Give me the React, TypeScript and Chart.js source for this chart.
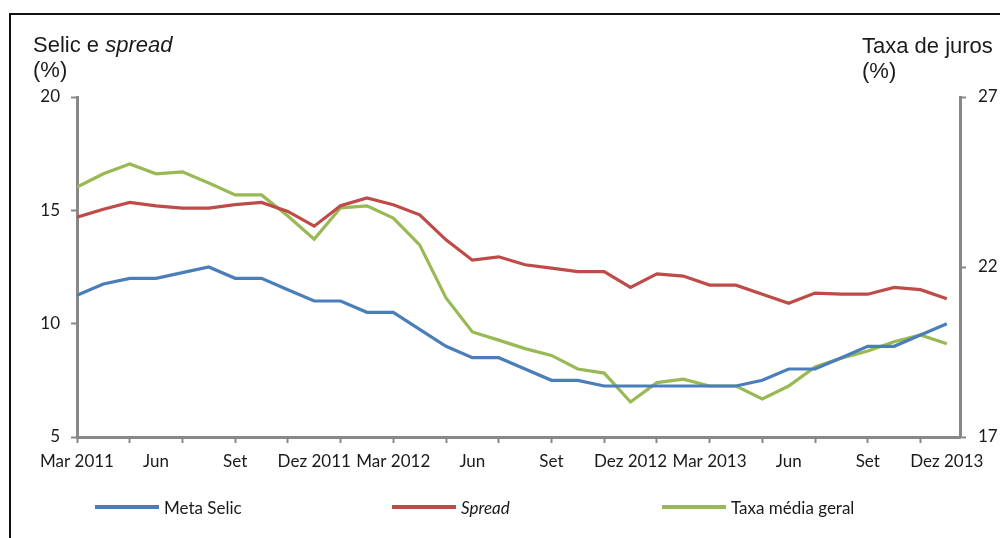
import React, { useEffect, useRef } from "react";
import { Chart, registerables } from "chart.js";

Chart.register(...registerables);

// Monthly series, Mar 2011 .. Dez 2013 (34 months)
const xTickLabels = [
  "Mar 2011", "Jun", "Set", "Dez 2011", "Mar 2012", "Jun",
  "Set", "Dez 2012", "Mar 2013", "Jun", "Set", "Dez 2013",
];
const labelEvery = 3; // one label per quarter
const tickMarkEvery = 2; // tick marks every two months

const metaSelic = [
  11.25, 11.75, 12, 12, 12.25, 12.5, 12, 12, 11.5, 11, 11, 10.5,
  10.5, 9.75, 9, 8.5, 8.5, 8, 7.5, 7.5, 7.25, 7.25, 7.25, 7.25,
  7.25, 7.25, 7.5, 8, 8, 8.5, 9, 9, 9.5, 10,
];
const spread = [
  14.7, 15.05, 15.35, 15.2, 15.1, 15.1, 15.25, 15.35, 14.95, 14.3, 15.2, 15.55,
  15.25, 14.8, 13.7, 12.8, 12.95, 12.6, 12.45, 12.3, 12.3, 11.6, 12.2, 12.1,
  11.7, 11.7, 11.3, 10.9, 11.35, 11.3, 11.3, 11.6, 11.5, 11.1,
];
const taxaMediaGeral = [
  24.35, 24.74, 25.03, 24.74, 24.8, 24.47, 24.12, 24.12, 23.5, 22.82, 23.74, 23.8,
  23.44, 22.65, 21.09, 20.09, 19.85, 19.6, 19.4, 19.0, 18.88, 18.03, 18.6, 18.7,
  18.5, 18.5, 18.12, 18.5, 19.06, 19.32, 19.53, 19.8, 20.0, 19.74,
];

const leftAxis = { min: 5, max: 20, step: 5 };
const rightAxis = { min: 17, max: 27, step: 5 };

const BLUE = "#4A7EBB";
const RED = "#BE4B48";
const GREEN = "#98B954";
const AXIS = "#888888";
const TEXT = "#1a1a1a";
const TICK_FONT = { family: "Lato", size: 17 };

const toPoints = (arr: number[]) => arr.map((v, i) => ({ x: i, y: v }));

export default function App() {
  const canvasRef = useRef<HTMLCanvasElement | null>(null);

  useEffect(() => {
    const canvas = canvasRef.current;
    if (!canvas) return;
    const chart = new Chart(canvas, {
      type: "line",
      data: {
        datasets: [
          {
            label: "Meta Selic",
            data: toPoints(metaSelic),
            borderColor: BLUE,
            borderWidth: 3.2,
            pointRadius: 0,
            yAxisID: "y",
          },
          {
            label: "Spread",
            data: toPoints(spread),
            borderColor: RED,
            borderWidth: 3.2,
            pointRadius: 0,
            yAxisID: "y",
          },
          {
            label: "Taxa média geral",
            data: toPoints(taxaMediaGeral),
            borderColor: GREEN,
            borderWidth: 3.2,
            pointRadius: 0,
            yAxisID: "y1",
          },
        ],
      },
      options: {
        responsive: false,
        animation: false,
        devicePixelRatio: 1,
        layout: { padding: { top: 97, left: 0, right: 0, bottom: 0 } },
        plugins: {
          legend: { display: false },
          tooltip: { enabled: false },
          title: { display: false },
        },
        scales: {
          x: {
            type: "linear",
            min: 0,
            max: metaSelic.length - 0.5,
            // one tick per month; labels and tick marks are thinned below
            afterBuildTicks: (s: any) => {
              s.ticks = metaSelic.map((_, i) => ({ value: i }));
            },
            afterFit: (s: any) => {
              s.height = 101;
            },
            border: { display: true, color: AXIS, width: 3 },
            grid: {
              drawOnChartArea: false,
              drawTicks: true,
              tickLength: 6,
              tickWidth: 2,
              tickColor: (ctx: any) => {
                const v = ctx.tick ? ctx.tick.value : NaN;
                return Number.isInteger(v) && v % tickMarkEvery === 0 ? AXIS : "rgba(0,0,0,0)";
              },
            },
            ticks: {
              autoSkip: false,
              maxRotation: 0,
              minRotation: 0,
              padding: 8,
              color: TEXT,
              font: TICK_FONT,
              callback: (value: any) => {
                const v = Number(value);
                if (!Number.isInteger(v) || v % labelEvery !== 0) return "";
                return xTickLabels[v / labelEvery] ?? "";
              },
            },
          },
          y: {
            type: "linear",
            position: "left",
            min: leftAxis.min,
            max: leftAxis.max,
            afterFit: (s: any) => {
              s.width = 77;
            },
            border: { display: true, color: AXIS, width: 3 },
            grid: {
              drawOnChartArea: false,
              tickLength: 6,
              tickWidth: 2,
              tickColor: AXIS,
            },
            ticks: {
              stepSize: leftAxis.step,
              padding: 11,
              color: TEXT,
              font: TICK_FONT,
            },
          },
          y1: {
            type: "linear",
            position: "right",
            min: rightAxis.min,
            max: rightAxis.max,
            afterFit: (s: any) => {
              s.width = 40;
            },
            border: { display: true, color: AXIS, width: 3 },
            grid: {
              drawOnChartArea: false,
              tickLength: 6,
              tickWidth: 2,
              tickColor: AXIS,
            },
            ticks: {
              stepSize: rightAxis.step,
              padding: 12,
              color: TEXT,
              font: TICK_FONT,
            },
          },
        },
      },
    } as any);
    return () => chart.destroy();
  }, []);

  const titleStyle: React.CSSProperties = {
    position: "absolute",
    fontFamily: "'Liberation Sans', Arial, sans-serif",
    fontSize: 22,
    lineHeight: "25px",
    color: TEXT,
    whiteSpace: "nowrap",
  };

  const legendItems = [
    { label: "Meta Selic", color: BLUE, x: 95, italic: false },
    { label: "Spread", color: RED, x: 392, italic: true },
    { label: "Taxa média geral", color: GREEN, x: 662, italic: false },
  ];

  return (
    <div
      style={{
        position: "fixed",
        inset: 0,
        overflow: "hidden",
        background: "#fff",
      }}
    >
      <div
        style={{
          position: "absolute",
          left: 9,
          top: 13,
          width: 1200,
          height: 800,
          border: "2px solid #111",
        }}
      />
      <canvas
        ref={canvasRef}
        width={1000}
        height={538}
        style={{ position: "absolute", left: 0, top: 0, width: 1000, height: 538 }}
      />
      <div style={{ ...titleStyle, left: 33, top: 32 }}>
        Selic e <i>spread</i>
        <br />
        (%)
      </div>
      <div style={{ ...titleStyle, left: 862, top: 33 }}>
        Taxa de juros
        <br />
        (%)
      </div>
      {legendItems.map((it) => (
        <div
          key={it.label}
          style={{
            position: "absolute",
            left: it.x,
            top: 495,
            height: 24,
            display: "flex",
            alignItems: "center",
            fontFamily: "Lato, sans-serif",
            fontSize: 17,
            color: TEXT,
            whiteSpace: "nowrap",
          }}
        >
          <span
            style={{
              display: "inline-block",
              width: 64,
              height: 4,
              background: it.color,
              marginRight: 5,
            }}
          />
          <span style={{ fontStyle: it.italic ? "italic" : "normal" }}>{it.label}</span>
        </div>
      ))}
    </div>
  );
}
